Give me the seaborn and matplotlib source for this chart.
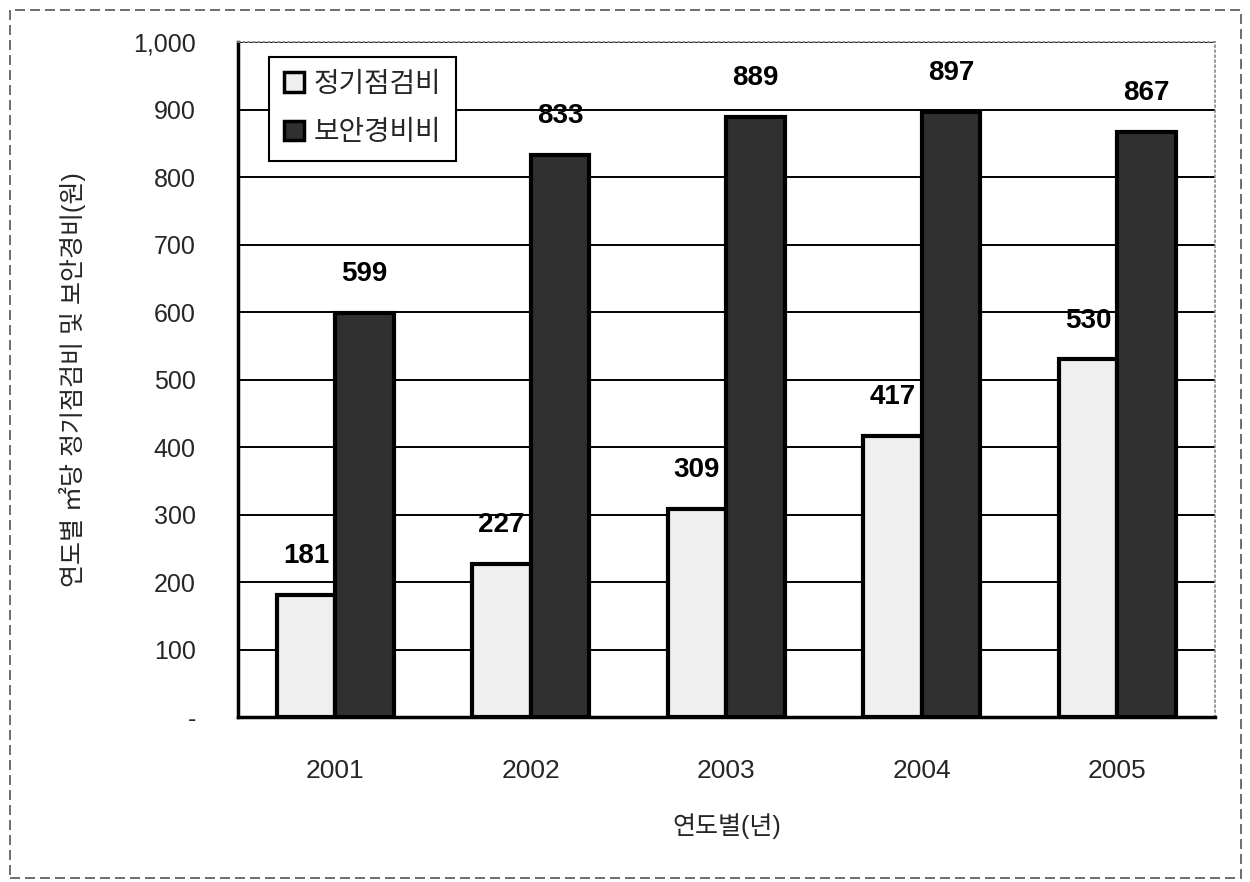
import pandas as pd
import matplotlib.pyplot as plt
import seaborn as sns
from matplotlib.patches import Rectangle, Patch
from matplotlib.ticker import FixedLocator, FuncFormatter

# ---- data ----
years = ['2001', '2002', '2003', '2004', '2005']
series_names = ['정기점검비', '보안경비비']
inspection_cost = [181, 227, 309, 417, 530]
security_cost = [599, 833, 889, 897, 867]

df = pd.DataFrame({
    'year': years * 2,
    'series': [series_names[0]] * len(years) + [series_names[1]] * len(years),
    'value': inspection_cost + security_cost,
})

sns.set_theme(style='white')
plt.rcParams['font.family'] = ['Liberation Sans', 'Noto Sans CJK KR', 'DejaVu Sans']

fig = plt.figure(figsize=(12.5, 8.82), dpi=100)
ax = fig.add_axes([0.19, 0.187, 0.782, 0.765])

light = '#efefef'
dark = '#303030'
sns.barplot(data=df, x='year', y='value', hue='series', palette=[light, dark],
            width=0.6, edgecolor='black', linewidth=3, ax=ax, legend=False)

# value labels over each bar
for cont in ax.containers:
    for bar in cont:
        h = bar.get_height()
        ax.annotate(f'{int(h)}', xy=(bar.get_x() + bar.get_width() / 2, h),
                    xytext=(0, 28), textcoords='offset points', ha='center', va='center',
                    fontsize=20, fontweight='bold', color='black')

ax.set_ylim(0, 1000)
ax.set_xlim(-0.5, 4.5)
ax.yaxis.set_major_locator(FixedLocator(range(0, 1001, 100)))
ax.yaxis.set_major_formatter(FuncFormatter(lambda v, p: '-' if v == 0 else f'{int(v):,}'))
ax.grid(axis='y', color='black', linewidth=1.4)
ax.set_axisbelow(True)
ax.tick_params(axis='y', labelsize=18, length=0, pad=30)
ax.tick_params(axis='x', labelsize=19, length=0, pad=30)

for side in ['left', 'bottom']:
    ax.spines[side].set_color('black')
    ax.spines[side].set_linewidth(2.5)
for side in ['top', 'right']:
    ax.spines[side].set_color('#888888')
    ax.spines[side].set_linewidth(1.2)
    ax.spines[side].set_linestyle((0, (1, 2)))

# small separators between year groups
ax.set_xticks(range(len(years)), minor=False)
ax.set_xticks([i + 0.5 for i in range(len(years) - 1)], minor=True)
ax.tick_params(axis='x', which='minor', direction='in', length=8, width=1.5, color='black')

ax.set_xlabel('연도별(년)', fontsize=18, labelpad=22)
ax.set_ylabel('연도별 ㎡당 정기점검비 및 보안경비(원)', fontsize=18, labelpad=34)

handles = [Patch(facecolor=light, edgecolor='black', linewidth=2.5),
           Patch(facecolor=dark, edgecolor='black', linewidth=2.5)]
leg = ax.legend(handles, series_names, loc='upper left', bbox_to_anchor=(0.032, 0.979),
                borderaxespad=0, fontsize=20, frameon=True, fancybox=False, framealpha=1,
                handlelength=0.7, handleheight=0.7, handletextpad=0.35,
                labelspacing=0.8, borderpad=0.55, edgecolor='black')
leg.get_frame().set_linewidth(1.5)

# outer chart frame
fig.patches.append(Rectangle((0.008, 0.004), 0.985, 0.985, transform=fig.transFigure,
                             fill=False, edgecolor='#555555', linewidth=1.2,
                             linestyle=(0, (6, 3))))

fig.savefig('out.png', dpi=100, facecolor='white')
